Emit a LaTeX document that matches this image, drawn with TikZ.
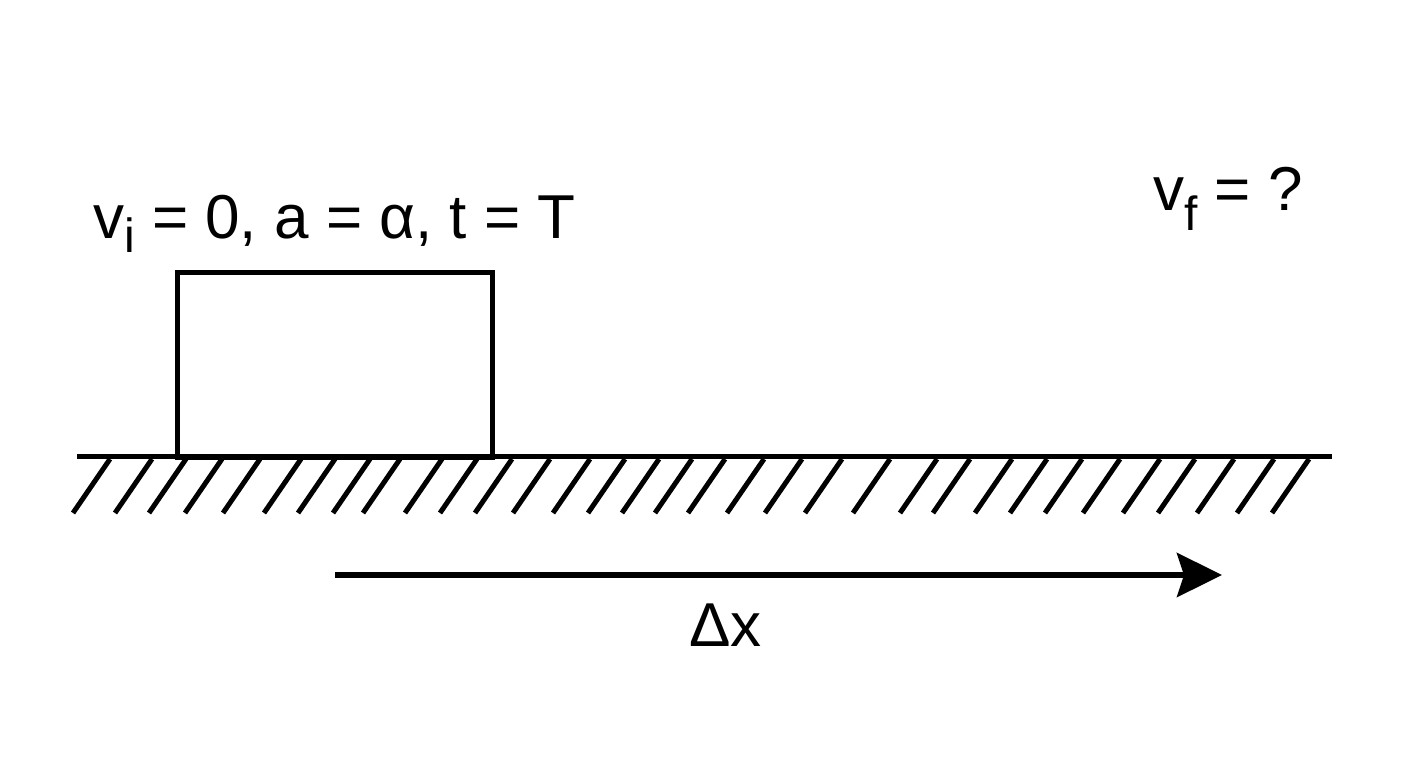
\documentclass[tikz,border=0pt]{standalone}
\usepackage{fontspec}
\setmainfont{Liberation Sans}
\usetikzlibrary{arrows.meta}
\tikzset{
  thickline/.style={line width=5pt, black},
  hatchline/.style={line width=5pt, black},
  bigtext/.style={font=\fontsize{62}{70}\selectfont, inner sep=0pt, anchor=base west},
  blockbox/.style={draw, line width=5pt, minimum width=315pt, minimum height=185pt, inner sep=0pt},
  disparrow/.style={line width=6pt, -{Stealth[length=45pt, width=44pt, inset=7pt]}}
}
\newcommand{\mysub}[2]{\raisebox{#1}{\fontsize{48}{50}\selectfont #2}}
\begin{document}
\begin{tikzpicture}[x=1pt, y=-1pt]
  \useasboundingbox (0,0) rectangle (1408,768);
  % ground
  \coordinate (gl) at (77,456);
  \coordinate (gr) at (1332,456);
  \draw[thickline] (gl) -- (gr);
  \foreach \b in {73,115,149,185,223,264,298,333,363,405,440,475,513,553,588,622,655,688,727,765,805,853,900,933,975,1010,1045,1083,1123,1158,1197,1237,1272}
    \draw[hatchline] (\b+37,459) -- (\b,513);
  % block
  \node[blockbox] (block) at (334.5,364.5) {};
  % labels
  \node[bigtext] (initial) at (93,238) {v\mysub{-14pt}{i} = 0, a = α, t = T};
  \node[bigtext] (final) at (1153,210) {v\mysub{-20pt}{f} = ?};
  % displacement arrow
  \coordinate (dxstart) at (335,575);
  \coordinate (dxend) at (1222,575);
  \draw[disparrow] (dxstart) -- (dxend);
  \node[bigtext] (dx) at (689,646) {Δx};
\end{tikzpicture}
\end{document}
